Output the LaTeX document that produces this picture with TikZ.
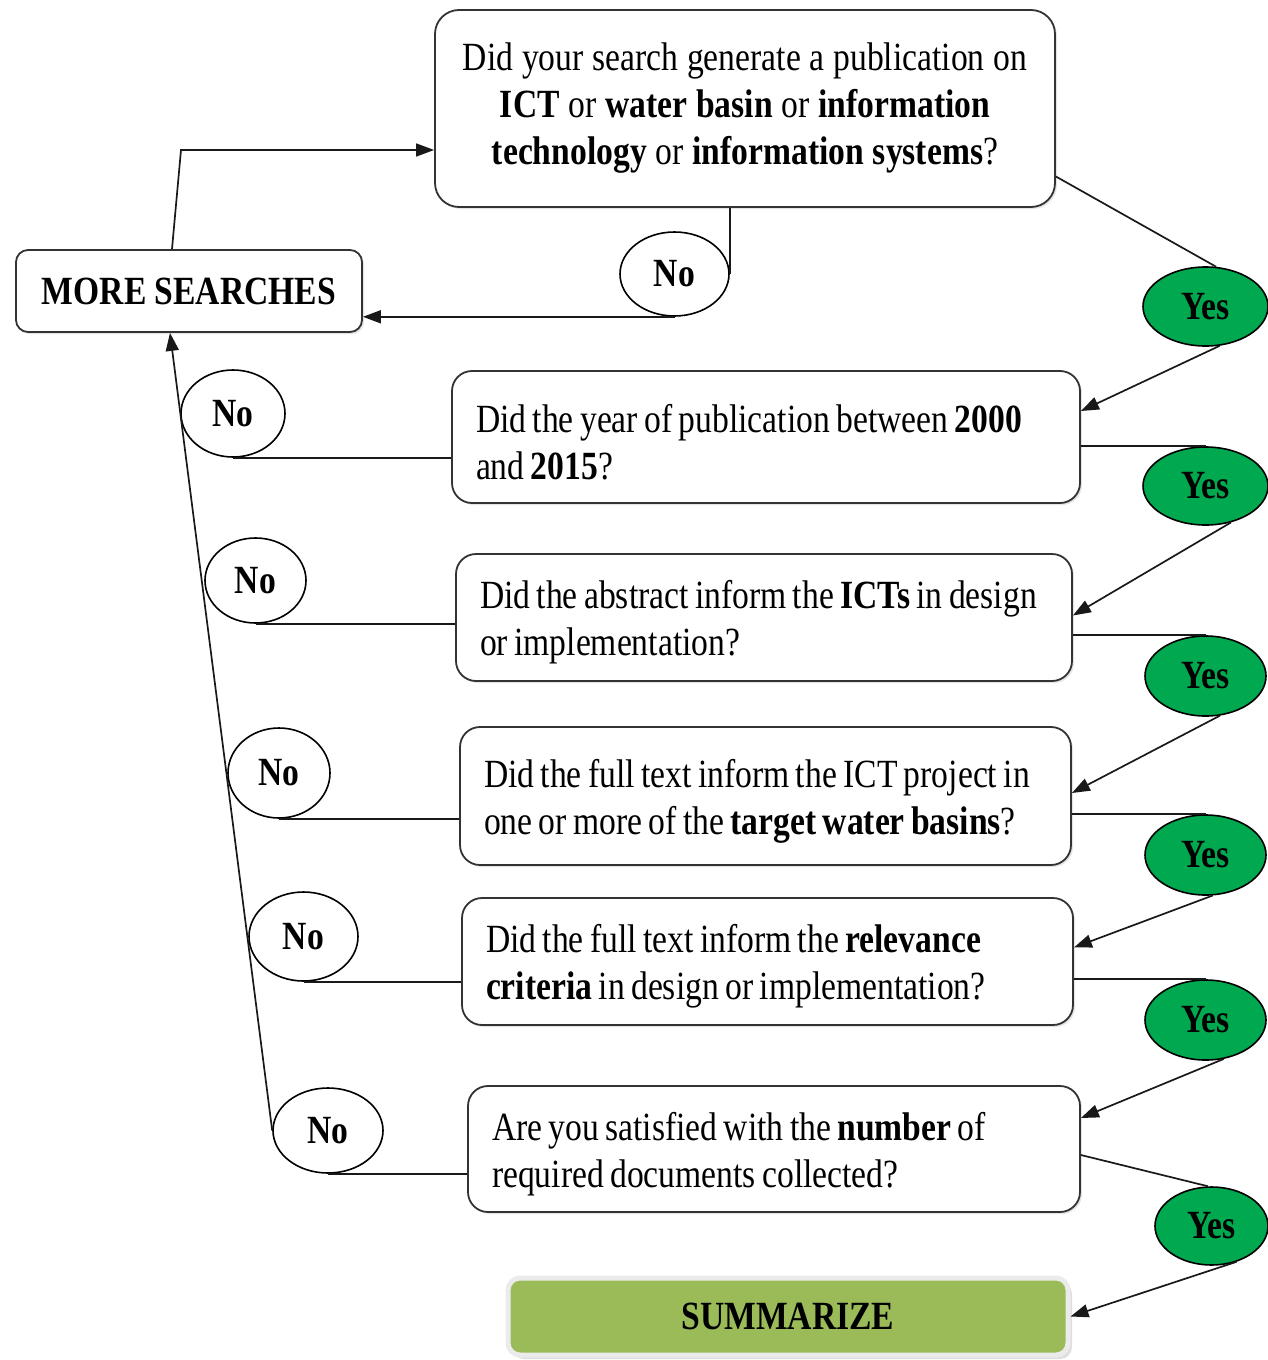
\documentclass[tikz,border=0pt]{standalone}
\usepackage{fontspec}
\setmainfont{Liberation Serif}[FakeStretch=0.84]
\usetikzlibrary{positioning, arrows.meta, calc, shapes.geometric, shadows}
\definecolor{yesgreen}{RGB}{0,168,80}
\definecolor{sumgreen}{RGB}{155,187,89}
\newcommand{\qfont}{\fontsize{20}{23.5}\selectfont}

\begin{document}
\begin{tikzpicture}[x=0.5pt, y=-0.5pt,
    qbox/.style={draw=black!80, line width=0.9pt, rounded corners=10pt, fill=white,
        drop shadow={shadow xshift=1pt, shadow yshift=-1pt, fill=black!20},
        inner xsep=12pt, align=left, font=\qfont, text height=19pt,
        execute at begin node={\spaceskip=0.16em\xspaceskip=0.2em\relax}},
    oval/.style={ellipse, draw=black, line width=0.8pt, inner sep=0pt, fill=white, font=\qfont\bfseries},
    yesoval/.style={oval, fill=yesgreen},
    link/.style={draw=black!90, line width=0.85pt},
    arr/.style={link, -{Triangle[length=9pt, width=6.5pt]}}
]
\useasboundingbox (0,0) rectangle (1268,1360);

% Domande
\node[qbox, text width=302pt, inner xsep=4pt, align=center, minimum height=98.5pt, text height=,
    rounded corners=12pt, execute at begin node={\spaceskip=0.22em\relax}] (q1) at (745,108.5)
    {Did your search generate a publication on\\ \textbf{ICT} or \textbf{water basin} or \textbf{information}\\ \textbf{technology} or \textbf{information systems}?};
\node[qbox, text width=290pt, minimum height=66pt] (q2) at (766,437)
    {Did the year of publication between \textbf{2000}\\ and \textbf{2015}?};
\node[qbox, text width=284pt, minimum height=63.5pt] (q3) at (764,617.5)
    {Did the abstract inform the \textbf{ICTs} in design\\ or implementation?};
\node[qbox, text width=281.5pt, minimum height=69pt] (q4) at (765.5,796)
    {Did the full text inform the ICT project in\\ one or more of the \textbf{target water basins}?};
\node[qbox, text width=281.5pt, minimum height=63.5pt] (q5) at (767.5,961.5)
    {Did the full text inform the \textbf{relevance}\\ \textbf{criteria} in design or implementation?};
\node[qbox, text width=282pt, minimum height=63pt] (q6) at (774,1149)
    {Are you satisfied with the \textbf{number} of\\ required documents collected?};

% Azioni
\node[draw=black!80, line width=0.9pt, rounded corners=6pt, fill=white,
    drop shadow={shadow xshift=1pt, shadow yshift=-1pt, fill=black!20},
    minimum width=173pt, minimum height=41pt, font=\qfont\bfseries] (more) at (189,291) {MORE SEARCHES};
\node[draw=black!8, line width=2.5pt, rounded corners=6pt, fill=sumgreen,
    drop shadow={shadow xshift=2pt, shadow yshift=-2pt, fill=black!25},
    minimum width=280pt, minimum height=38.5pt, font=\qfont\bfseries] (summ) at (788,1316.5) {SUMMARIZE};

% Risposte No
\node[oval, minimum width=54.5pt, minimum height=42pt] (no1) at (674.5,274) {No};
\node[oval, minimum width=52pt, minimum height=43.5pt] (no2) at (233,413.5) {No};
\node[oval, minimum width=50.5pt, minimum height=42.5pt] (no3) at (255.5,580.5) {No};
\node[oval, minimum width=51pt, minimum height=45pt] (no4) at (279,773) {No};
\node[oval, minimum width=54.5pt, minimum height=44.5pt] (no5) at (303.5,936.5) {No};
\node[oval, minimum width=55pt, minimum height=42.5pt] (no6) at (328,1130.5) {No};

% Risposte Yes
\node[yesoval, minimum width=62.5pt, minimum height=39.5pt] (yes1) at (1205.5,306.5) {Yes};
\node[yesoval, minimum width=62.5pt, minimum height=39pt] (yes2) at (1205.5,486) {Yes};
\node[yesoval, minimum width=60.5pt, minimum height=40pt] (yes3) at (1205.5,676) {Yes};
\node[yesoval, minimum width=60.5pt, minimum height=40pt] (yes4) at (1205.5,855) {Yes};
\node[yesoval, minimum width=60.5pt, minimum height=40pt] (yes5) at (1205.5,1020) {Yes};
\node[yesoval, minimum width=56.5pt, minimum height=39pt] (yes6) at (1211.5,1226) {Yes};

% Ramo No
\coordinate (bend) at (181,150);
\draw[arr] ([xshift=-8.5pt]more.north) -- (bend) -- (bend -| q1.west);
\draw[link] (q1.south -| no1.east) -- (no1.east);
\draw[arr] (no1.south) -- (no1.south -| more.east);
\foreach \i in {2,...,6}
    \draw[link] (no\i.south -| q\i.west) -- (no\i.south);
\draw[arr] (no6.west) -- ([xshift=-9.5pt]more.south);

% Ramo Yes
\draw[link] ([yshift=-34pt]q1.east) -- (yes1.75);
\draw[arr] (yes1.-70) -- ([yshift=13pt]q2.east);
\foreach \i in {2,...,5}
    \draw[link] (yes\i.north -| q\i.east) -- (yes\i.north);
\draw[arr] (yes2.-55) -- ([yshift=1pt]q3.east);
\draw[arr] (yes3.-70) -- ([yshift=1.5pt]q4.east);
\draw[arr] (yes4.-80) -- ([yshift=7pt]q5.east);
\draw[arr] (yes5.-65) -- ([yshift=15.5pt]q6.east);
\draw[link] ([yshift=-3pt]q6.east) -- (yes6.95);
\draw[arr] (yes6.-55) -- (summ.east);

\end{tikzpicture}
\end{document}
